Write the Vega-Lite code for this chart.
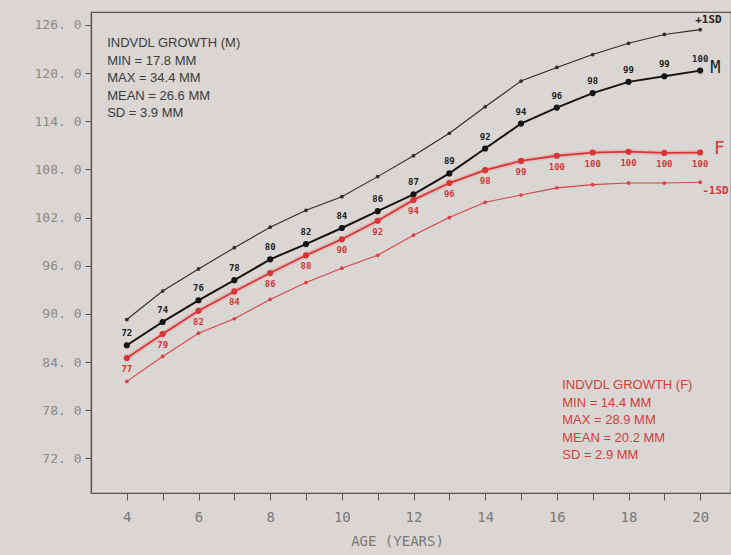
{
  "$schema": "https://vega.github.io/schema/vega-lite/v6.json",
  "autosize": {"type": "none"},
  "padding": {"left": 91, "top": 12, "right": 0, "bottom": 62},
  "width": 640,
  "height": 481,
  "background": "#d9d6d3",
  "config": {
    "view": {"stroke": "#555555", "strokeWidth": 1.2},
    "axis": {"grid": false, "domainColor": "#555555", "tickColor": "#555555", "domainWidth": 1.2}
  },
  "datasets": {
    "curves": [
      {"age": 4, "value": 89.3, "series": "+1SD (M)", "n": ""},
      {"age": 5, "value": 92.85, "series": "+1SD (M)", "n": ""},
      {"age": 6, "value": 95.6, "series": "+1SD (M)", "n": ""},
      {"age": 7, "value": 98.25, "series": "+1SD (M)", "n": ""},
      {"age": 8, "value": 100.8, "series": "+1SD (M)", "n": ""},
      {"age": 9, "value": 102.9, "series": "+1SD (M)", "n": ""},
      {"age": 10, "value": 104.6, "series": "+1SD (M)", "n": ""},
      {"age": 11, "value": 107.1, "series": "+1SD (M)", "n": ""},
      {"age": 12, "value": 109.7, "series": "+1SD (M)", "n": ""},
      {"age": 13, "value": 112.5, "series": "+1SD (M)", "n": ""},
      {"age": 14, "value": 115.8, "series": "+1SD (M)", "n": ""},
      {"age": 15, "value": 119.0, "series": "+1SD (M)", "n": ""},
      {"age": 16, "value": 120.7, "series": "+1SD (M)", "n": ""},
      {"age": 17, "value": 122.3, "series": "+1SD (M)", "n": ""},
      {"age": 18, "value": 123.7, "series": "+1SD (M)", "n": ""},
      {"age": 19, "value": 124.8, "series": "+1SD (M)", "n": ""},
      {"age": 20, "value": 125.4, "series": "+1SD (M)", "n": ""},
      {"age": 4, "value": 86.1, "series": "M", "n": "72"},
      {"age": 5, "value": 89.0, "series": "M", "n": "74"},
      {"age": 6, "value": 91.7, "series": "M", "n": "76"},
      {"age": 7, "value": 94.2, "series": "M", "n": "78"},
      {"age": 8, "value": 96.8, "series": "M", "n": "80"},
      {"age": 9, "value": 98.7, "series": "M", "n": "82"},
      {"age": 10, "value": 100.7, "series": "M", "n": "84"},
      {"age": 11, "value": 102.8, "series": "M", "n": "86"},
      {"age": 12, "value": 104.9, "series": "M", "n": "87"},
      {"age": 13, "value": 107.5, "series": "M", "n": "89"},
      {"age": 14, "value": 110.6, "series": "M", "n": "92"},
      {"age": 15, "value": 113.7, "series": "M", "n": "94"},
      {"age": 16, "value": 115.7, "series": "M", "n": "96"},
      {"age": 17, "value": 117.5, "series": "M", "n": "98"},
      {"age": 18, "value": 118.9, "series": "M", "n": "99"},
      {"age": 19, "value": 119.6, "series": "M", "n": "99"},
      {"age": 20, "value": 120.3, "series": "M", "n": "100"},
      {"age": 4, "value": 84.5, "series": "F", "n": "77"},
      {"age": 5, "value": 87.5, "series": "F", "n": "79"},
      {"age": 6, "value": 90.4, "series": "F", "n": "82"},
      {"age": 7, "value": 92.8, "series": "F", "n": "84"},
      {"age": 8, "value": 95.1, "series": "F", "n": "86"},
      {"age": 9, "value": 97.3, "series": "F", "n": "88"},
      {"age": 10, "value": 99.3, "series": "F", "n": "90"},
      {"age": 11, "value": 101.6, "series": "F", "n": "92"},
      {"age": 12, "value": 104.2, "series": "F", "n": "94"},
      {"age": 13, "value": 106.3, "series": "F", "n": "96"},
      {"age": 14, "value": 107.9, "series": "F", "n": "98"},
      {"age": 15, "value": 109.05, "series": "F", "n": "99"},
      {"age": 16, "value": 109.7, "series": "F", "n": "100"},
      {"age": 17, "value": 110.1, "series": "F", "n": "100"},
      {"age": 18, "value": 110.2, "series": "F", "n": "100"},
      {"age": 19, "value": 110.05, "series": "F", "n": "100"},
      {"age": 20, "value": 110.1, "series": "F", "n": "100"},
      {"age": 4, "value": 81.6, "series": "-1SD (F)", "n": ""},
      {"age": 5, "value": 84.7, "series": "-1SD (F)", "n": ""},
      {"age": 6, "value": 87.6, "series": "-1SD (F)", "n": ""},
      {"age": 7, "value": 89.4, "series": "-1SD (F)", "n": ""},
      {"age": 8, "value": 91.8, "series": "-1SD (F)", "n": ""},
      {"age": 9, "value": 93.9, "series": "-1SD (F)", "n": ""},
      {"age": 10, "value": 95.7, "series": "-1SD (F)", "n": ""},
      {"age": 11, "value": 97.3, "series": "-1SD (F)", "n": ""},
      {"age": 12, "value": 99.8, "series": "-1SD (F)", "n": ""},
      {"age": 13, "value": 102.0, "series": "-1SD (F)", "n": ""},
      {"age": 14, "value": 103.9, "series": "-1SD (F)", "n": ""},
      {"age": 15, "value": 104.8, "series": "-1SD (F)", "n": ""},
      {"age": 16, "value": 105.7, "series": "-1SD (F)", "n": ""},
      {"age": 17, "value": 106.1, "series": "-1SD (F)", "n": ""},
      {"age": 18, "value": 106.3, "series": "-1SD (F)", "n": ""},
      {"age": 19, "value": 106.3, "series": "-1SD (F)", "n": ""},
      {"age": 20, "value": 106.4, "series": "-1SD (F)", "n": ""}
    ],
    "notes": [
      {"age": 3.45, "value": 123.74, "note": "INDVDL GROWTH (M)", "box": "M"},
      {"age": 3.45, "value": 121.56, "note": "MIN = 17.8 MM", "box": "M"},
      {"age": 3.45, "value": 119.38, "note": "MAX = 34.4 MM", "box": "M"},
      {"age": 3.45, "value": 117.2, "note": "MEAN = 26.6 MM", "box": "M"},
      {"age": 3.45, "value": 115.02, "note": "SD = 3.9 MM", "box": "M"},
      {"age": 16.15, "value": 81.11, "note": "INDVDL GROWTH (F)", "box": "F"},
      {"age": 16.15, "value": 78.93, "note": "MIN = 14.4 MM", "box": "F"},
      {"age": 16.15, "value": 76.75, "note": "MAX = 28.9 MM", "box": "F"},
      {"age": 16.15, "value": 74.57, "note": "MEAN = 20.2 MM", "box": "F"},
      {"age": 16.15, "value": 72.39, "note": "SD = 2.9 MM", "box": "F"}
    ]
  },
  "data": {"name": "curves"},
  "encoding": {
    "x": {
      "field": "age", "type": "quantitative",
      "scale": {"domain": [3, 20.86], "nice": false, "zero": false},
      "axis": {
        "values": [4, 5, 6, 7, 8, 9, 10, 11, 12, 13, 14, 15, 16, 17, 18, 19, 20],
        "labelExpr": "datum.value % 2 == 0 ? datum.label : ''",
        "tickSize": 7,
        "labelPadding": 10,
        "labelFont": "DejaVu Sans Mono",
        "labelFontSize": 14,
        "labelColor": "#7a7a7a",
        "title": "AGE  (YEARS)",
        "titleFont": "DejaVu Sans Mono",
        "titleFontSize": 14,
        "titleFontWeight": "normal",
        "titleColor": "#7a7a7a",
        "titlePadding": 10,
        "titleX": 306
      }
    },
    "y": {
      "field": "value", "type": "quantitative",
      "scale": {"domain": [67.7, 127.6], "nice": false, "zero": false},
      "axis": {
        "values": [72, 78, 84, 90, 96, 102, 108, 114, 120, 126],
        "labelExpr": "replace(format(datum.value, '.1f'), '.', '. ')",
        "tickSize": 6,
        "labelPadding": 4,
        "labelFont": "DejaVu Sans Mono",
        "labelFontSize": 13,
        "labelColor": "#8a8a8a",
        "title": null
      }
    }
  },
  "layer": [
    {
      "transform": [{"filter": "datum.series == 'F'"}],
      "mark": {"type": "line", "strokeWidth": 5, "opacity": 0.16, "color": "#ff4040"},
      "encoding": {"detail": {"field": "series"}}
    },
    {
      "mark": {"type": "line"},
      "encoding": {
        "color": {
          "field": "series", "type": "nominal", "legend": null,
          "scale": {"domain": ["+1SD (M)", "M", "F", "-1SD (F)"], "range": ["#2e2e2e", "#141414", "#d63636", "#d84444"]}
        },
        "strokeWidth": {
          "field": "series", "type": "nominal", "legend": null,
          "scale": {"type": "ordinal", "domain": ["+1SD (M)", "M", "F", "-1SD (F)"], "range": [1.1, 2.0, 1.8, 1.1]}
        }
      }
    },
    {
      "mark": {"type": "point", "filled": true, "opacity": 1},
      "encoding": {
        "color": {"field": "series", "type": "nominal", "legend": null},
        "size": {
          "field": "series", "type": "nominal", "legend": null,
          "scale": {"type": "ordinal", "domain": ["+1SD (M)", "M", "F", "-1SD (F)"], "range": [14, 38, 38, 14]}
        }
      }
    },
    {
      "transform": [{"filter": "datum.series == 'M'"}],
      "mark": {"type": "text", "dy": -12, "font": "DejaVu Sans Mono", "fontSize": 9, "fontWeight": "bold", "color": "#222222"},
      "encoding": {"text": {"field": "n"}}
    },
    {
      "transform": [{"filter": "datum.series == 'F'"}],
      "mark": {"type": "text", "dy": 11, "font": "DejaVu Sans Mono", "fontSize": 9, "fontWeight": "bold", "color": "#d63636"},
      "encoding": {"text": {"field": "n"}}
    },
    {
      "transform": [{"filter": "datum.series == '+1SD (M)' && datum.age == 20"}],
      "mark": {"type": "text", "align": "left", "dx": -5, "dy": -10, "font": "DejaVu Sans Mono", "fontSize": 11, "fontWeight": "bold", "color": "#222222", "text": "+1SD"},
      "encoding": {}
    },
    {
      "transform": [{"filter": "datum.series == 'M' && datum.age == 20"}],
      "mark": {"type": "text", "align": "left", "dx": 10, "dy": -3, "font": "DejaVu Sans Mono", "fontSize": 17, "color": "#222222", "text": "M"},
      "encoding": {}
    },
    {
      "transform": [{"filter": "datum.series == 'F' && datum.age == 20"}],
      "mark": {"type": "text", "align": "left", "dx": 14, "dy": -4, "font": "DejaVu Sans", "fontSize": 18, "color": "#d63636", "text": "F"},
      "encoding": {}
    },
    {
      "transform": [{"filter": "datum.series == '-1SD (F)' && datum.age == 20"}],
      "mark": {"type": "text", "align": "left", "dx": 2, "dy": 9, "font": "DejaVu Sans Mono", "fontSize": 11, "fontWeight": "bold", "color": "#d63636", "text": "-1SD"},
      "encoding": {}
    },
    {
      "data": {"name": "notes"},
      "transform": [{"filter": "datum.box == 'M'"}],
      "mark": {"type": "text", "align": "left", "baseline": "middle", "font": "Liberation Sans", "fontSize": 13, "color": "#3c3c3c"},
      "encoding": {"text": {"field": "note"}}
    },
    {
      "data": {"name": "notes"},
      "transform": [{"filter": "datum.box == 'F'"}],
      "mark": {"type": "text", "align": "left", "baseline": "middle", "font": "Liberation Sans", "fontSize": 13, "color": "#d43c3c"},
      "encoding": {"text": {"field": "note"}}
    }
  ]
}
